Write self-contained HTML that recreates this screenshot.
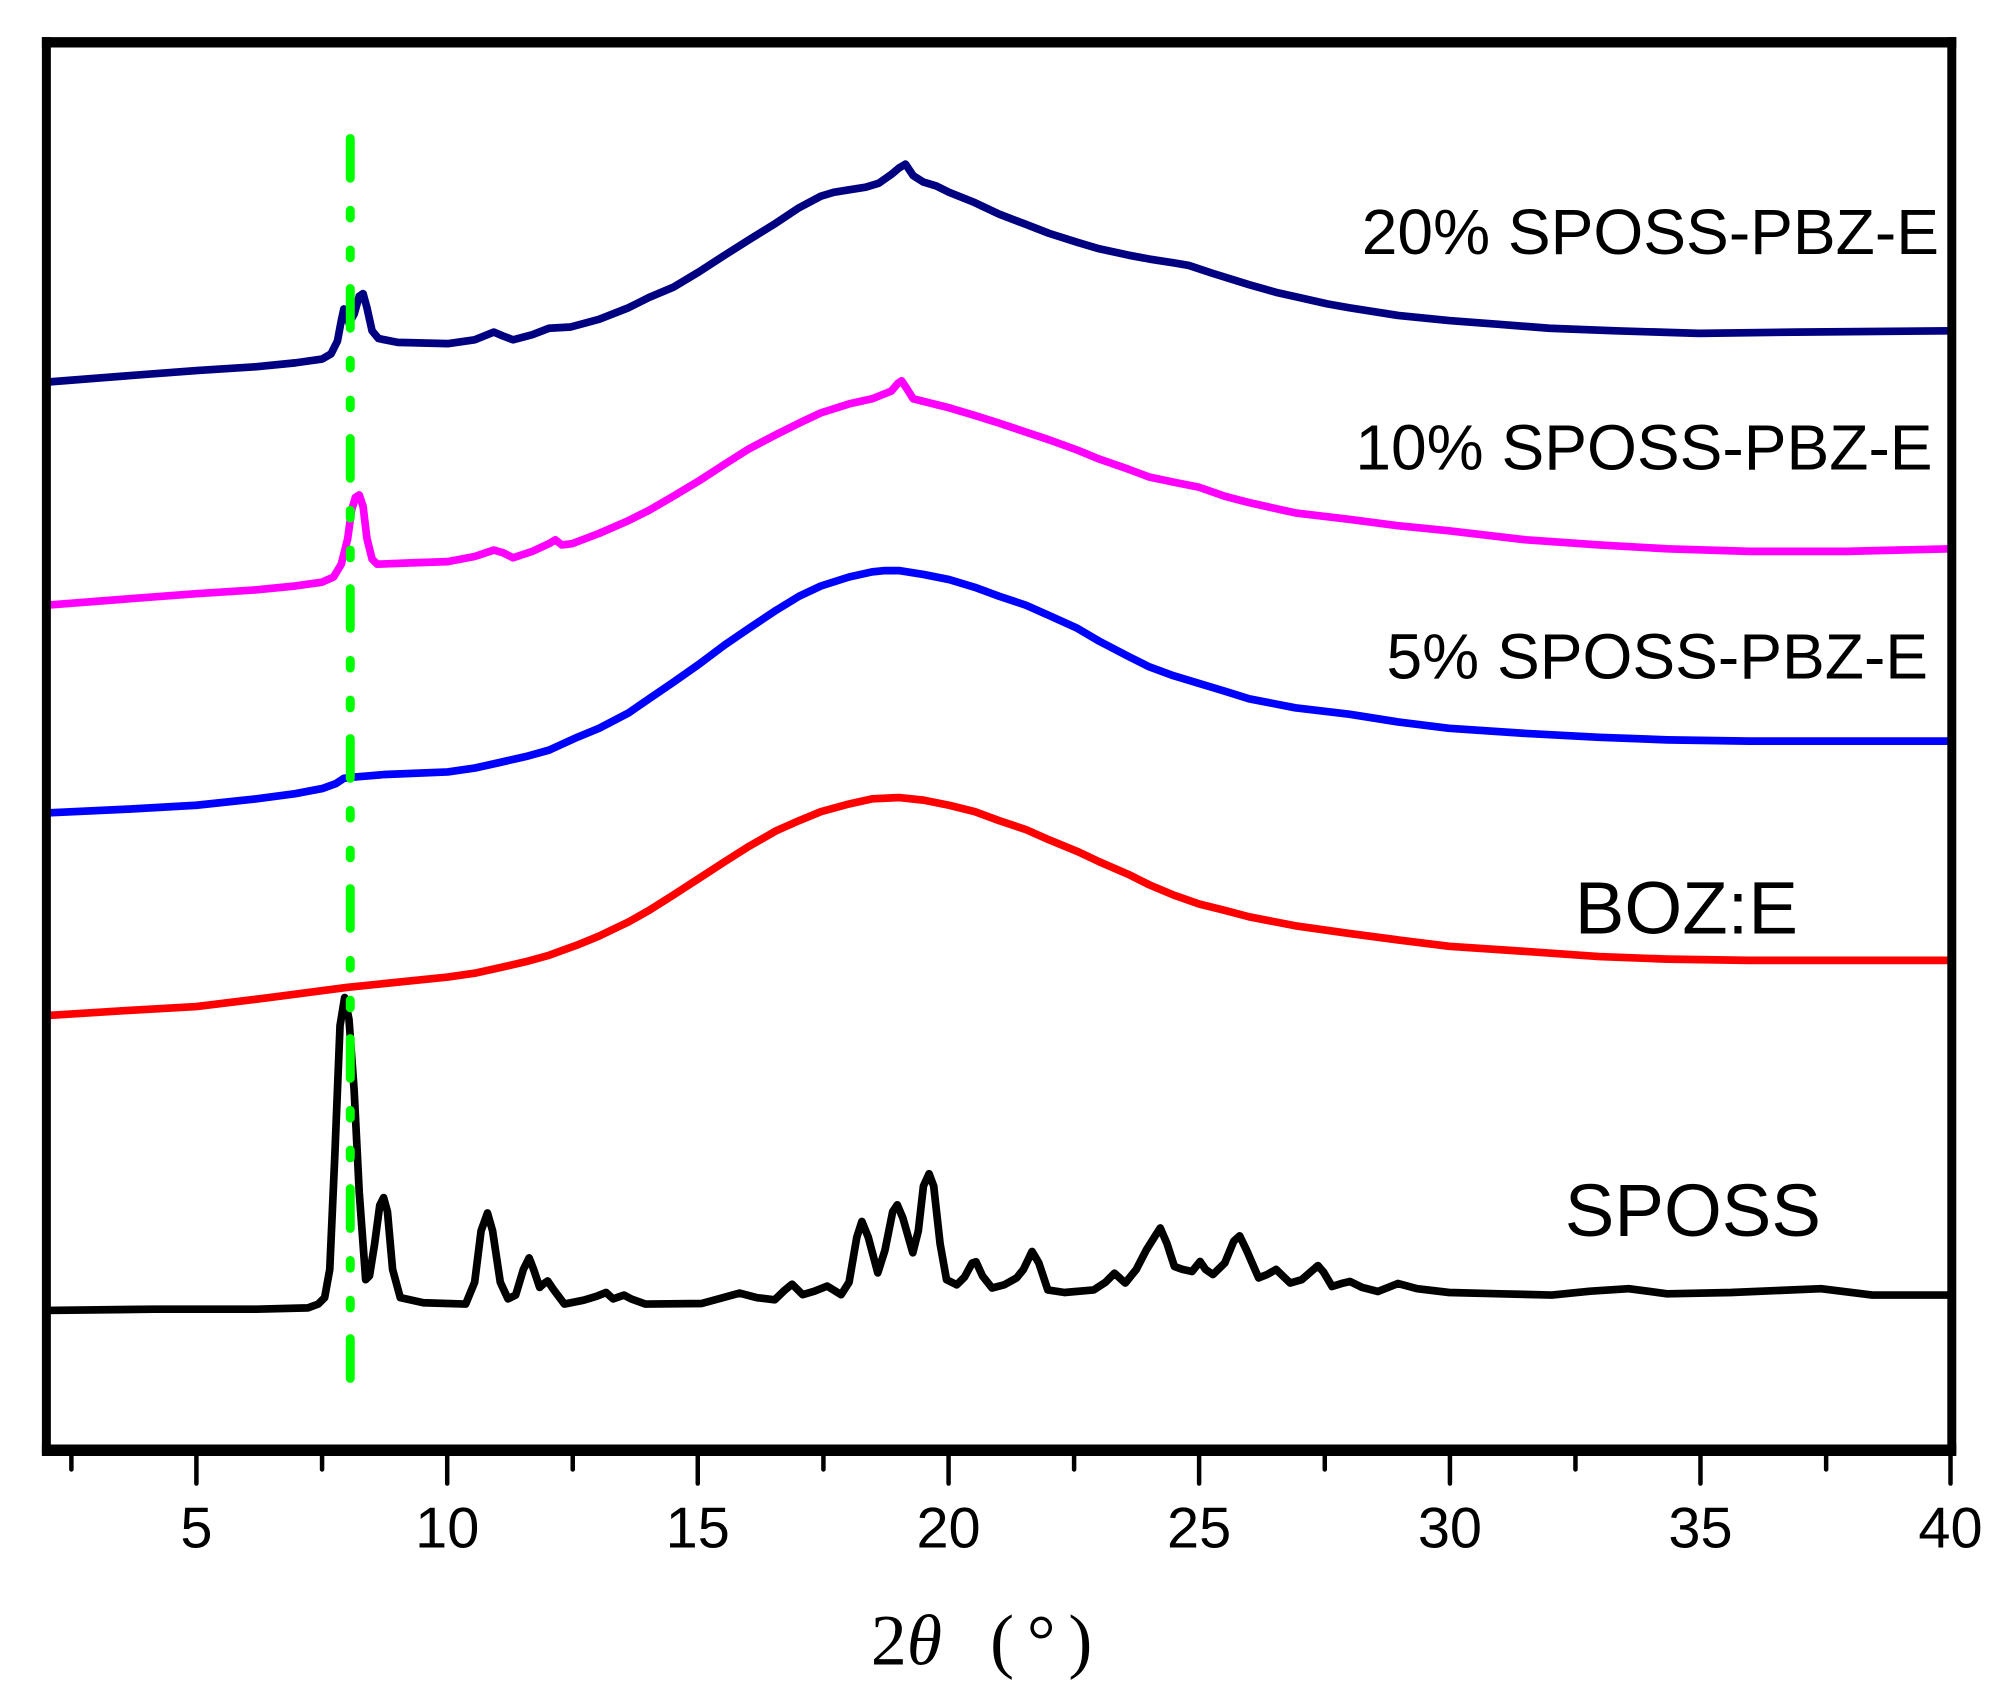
<!DOCTYPE html>
<html><head><meta charset="utf-8"><style>html,body{margin:0;padding:0;background:#fff}svg{display:block}</style></head>
<body>
<svg width="2011" height="1690" viewBox="0 0 1568 1318" xmlns="http://www.w3.org/2000/svg">
<rect width="1568" height="1318" fill="#fff"/>
<g fill="none" stroke-linejoin="round" stroke-linecap="round" stroke-width="6">
<polyline stroke="#000080" points="36,298 100,293 153,289 200,286 230,283 251,280 258,276 263,266 266,250 268,241 272,252 276,245 280,231 283,229 286,240 290,258 295,264 310,267 349,268 370,265 385,259 392,262 400,265 415,261 428,256 445,255 467,249 490,240 506,232 525,224 545,212 565,199 584,187 605,174 623,162 640,153 650,150 662,148 675,146 685,143 695,136 701,131 706,128 712,137 720,142 730,145 740,150 760,158 779,167 800,175 818,182 840,189 857,194 880,199 896,202 915,205 927,207 945,213 974,222 995,228 1013,232 1035,237 1052,240 1090,246 1130,250 1170,253 1208,256 1260,258 1325,260 1400,259 1521,258"/>
<polyline stroke="#ff00ff" points="36,472 100,467 153,463 200,460 230,457 251,454 260,450 266,440 271,420 274,398 277,388 280,386 283,395 286,420 290,436 294,440 320,439 349,438 370,434 385,429 392,431 400,435 415,430 428,424 433,421 438,425 446,424 467,416 490,406 506,398 525,387 545,375 565,362 584,350 605,339 623,330 640,322 662,315 680,311 695,305 700,299 703,297 707,303 712,311 720,313 740,318 760,324 779,330 800,337 818,343 840,351 857,358 880,366 896,372 915,376 935,380 955,387 974,392 1010,400 1052,405 1090,410 1130,414 1190,421 1247,425 1300,428 1364,430 1440,430 1521,428"/>
<polyline stroke="#0000ff" points="36,634 100,631 153,628 200,623 230,619 251,615 262,611 268,607 276,606 300,604 349,602 370,599 388,595 410,590 428,585 450,575 467,568 490,556 506,545 525,532 545,518 565,503 584,490 605,476 623,465 640,457 662,450 680,446 690,445 701,445 720,448 740,452 760,458 779,465 800,472 818,480 840,490 857,500 880,512 896,520 915,527 935,533 955,539 974,545 1010,552 1052,557 1090,563 1130,568 1190,572 1247,575 1300,577 1364,578 1440,578 1521,578"/>
<polyline stroke="#ff0000" points="36,792 100,788 153,785 210,778 271,770 310,766 349,762 370,759 388,755 410,750 428,745 450,737 467,730 490,719 506,710 525,698 545,685 565,672 584,660 605,648 623,640 640,633 662,627 680,623 701,622 720,624 740,628 760,633 779,640 800,647 818,655 840,664 857,672 880,682 896,690 915,698 935,705 955,710 974,715 1010,722 1052,728 1090,733 1130,738 1190,742 1247,746 1300,748 1364,749 1440,749 1521,749"/>
<polyline stroke="#000000" stroke-width="6" points="36,1022 120,1021 200,1021 240,1020 248,1017 253,1012 257,990 261,900 265,800 268.6,778 272,795 276,850 280,930 285,998 288,995 292,970 296,940 299,934 302,945 306,990 312,1012 330,1016 363,1017 370,1000 375,960 380,946 384,960 390,1000 396,1013 402,1010 408,990 412.5,981 416,990 420.7,1004 424,1001 427,999 431,1005 440,1017 455,1014 465,1011 472.5,1008 478,1013 486.4,1010 492,1013 503,1017 546.8,1016.6 560,1013 576.6,1008.5 590,1012 604,1013.7 612,1006 617.6,1001.5 625.8,1009.7 635,1007 645,1003 655.8,1009.7 662,1000 668,965 672,952.6 677,965 684.4,992.7 690,975 696,945 699.6,939.6 704,950 711.7,977 716,960 720,925 724.4,915.4 728,925 733,970 738,998 746,1002 752,996 758,985 761,984 766,995 773.5,1004.5 783,1002 792.7,996.6 798,990 804.7,976 810,985 817,1006 830,1008 852.8,1006 862,1000 869,993 877.4,1000.6 886,990 893.9,974.7 900,965 904.7,957.7 910,970 915.7,987.7 922,990 929.5,991.6 935.8,983.8 940,990 945.8,994 955,985 962,968 966.6,963.8 972,975 981.4,996.6 988,994 995,990 1006,1000.6 1015,998 1027.7,987 1032,992 1038.7,1003.3 1046,1001 1052.6,999.4 1062,1004 1074.5,1007.2 1090,1001 1105,1005 1130,1008 1170,1009 1210,1010 1240,1007 1270,1005 1300,1009 1350,1008 1420,1005 1460,1010 1521,1010"/>
</g>
<line x1="273" y1="108" x2="273" y2="1085" stroke="#00ff00" stroke-width="7" stroke-linecap="round" stroke-dasharray="31 25 6 25 6 24"/>
<g fill="none" stroke="#000">
<line x1="36" y1="29" x2="36" y2="1134" stroke-width="7"/>
<line x1="1522" y1="29" x2="1522" y2="1134" stroke-width="7"/>
<line x1="32.5" y1="33" x2="1525.5" y2="33" stroke-width="8"/>
<line x1="32.5" y1="1131" x2="1525.5" y2="1131" stroke-width="9"/>
<g stroke-width="3.5" stroke-linecap="round">
<line x1="153" y1="1134" x2="153" y2="1157"/><line x1="348.6" y1="1134" x2="348.6" y2="1157"/>
<line x1="544" y1="1134" x2="544" y2="1157"/><line x1="739.6" y1="1134" x2="739.6" y2="1157"/>
<line x1="935" y1="1134" x2="935" y2="1157"/><line x1="1130.6" y1="1134" x2="1130.6" y2="1157"/>
<line x1="1326" y1="1134" x2="1326" y2="1157"/><line x1="1521" y1="1134" x2="1521" y2="1157"/>
<line x1="55.5" y1="1134" x2="55.5" y2="1146"/><line x1="251" y1="1134" x2="251" y2="1146"/>
<line x1="446.5" y1="1134" x2="446.5" y2="1146"/><line x1="642" y1="1134" x2="642" y2="1146"/>
<line x1="837.5" y1="1134" x2="837.5" y2="1146"/><line x1="1033" y1="1134" x2="1033" y2="1146"/>
<line x1="1228.5" y1="1134" x2="1228.5" y2="1146"/><line x1="1424" y1="1134" x2="1424" y2="1146"/>
</g></g>
<g font-family="Liberation Sans, Arial, sans-serif" font-size="45" text-anchor="middle" fill="#000">
<text x="153" y="1207">5</text><text x="348.6" y="1207">10</text><text x="544" y="1207">15</text>
<text x="739.6" y="1207">20</text><text x="935" y="1207">25</text><text x="1130.6" y="1207">30</text>
<text x="1326" y="1207">35</text><text x="1521" y="1207">40</text>
</g>
<g font-family="Liberation Sans, Arial, sans-serif" fill="#000" text-anchor="end">
<text x="1512" y="198" font-size="50">20% SPOSS-PBZ-E</text>
<text x="1507" y="366" font-size="50">10% SPOSS-PBZ-E</text>
<text x="1503.5" y="529" font-size="50">5% SPOSS-PBZ-E</text>
<text x="1402" y="728" font-size="58">BOZ:E</text>
<text x="1420" y="964" font-size="58">SPOSS</text>
</g>
<g font-family="Liberation Serif, Times New Roman, serif" font-size="56" fill="#000">
<text x="679" y="1298">2<tspan font-style="italic">θ</tspan></text>
<text x="772" y="1298" letter-spacing="10">(°)</text>
</g>
</svg>
</body></html>
